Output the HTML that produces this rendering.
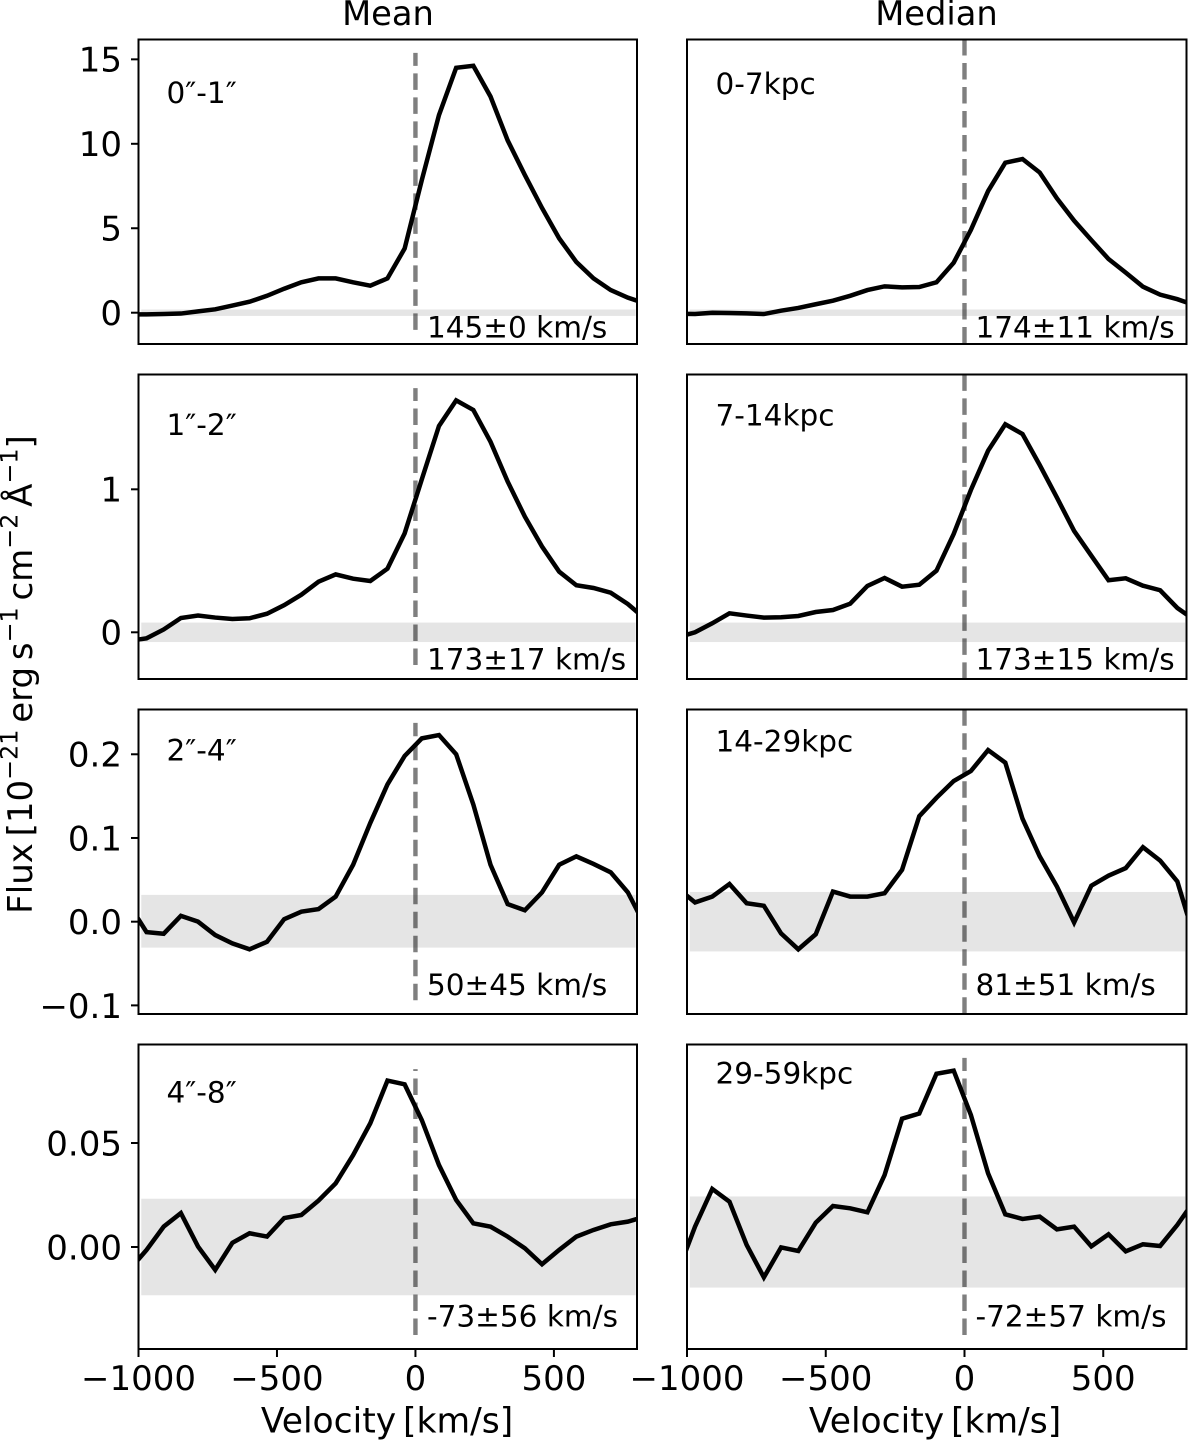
<!DOCTYPE html>
<html lang="en">
<head>
<meta charset="utf-8">
<title>Velocity profiles: mean and median flux</title>
<style>
  html, body { margin: 0; padding: 0; background: #fff; }
  svg { display: block; }
  text { font-family: "DejaVu Sans", "Liberation Sans", sans-serif; fill: #000; }
</style>
</head>
<body>
<svg id="chart" xmlns="http://www.w3.org/2000/svg" width="1200" height="1440" viewBox="0 0 1200 1440">
  <text x="388" y="25" font-size="33.7" text-anchor="middle">Mean</text>
  <text x="936.5" y="25" font-size="33.7" text-anchor="middle">Median</text>
  <text transform="translate(32 674.5) rotate(-90)" font-size="34" text-anchor="middle">Flux&#8201;[10<tspan dy="-14.5" font-size="23.8">&#8722;21</tspan><tspan dy="14.5">&#8201;erg&#8201;s</tspan><tspan dy="-14.5" font-size="23.8">&#8722;1</tspan><tspan dy="14.5">&#8201;cm</tspan><tspan dy="-14.5" font-size="23.8">&#8722;2</tspan><tspan dy="14.5">&#8201;&#197;</tspan><tspan dy="-14.5" font-size="23.8">&#8722;1</tspan><tspan dy="14.5">]</tspan></text>
  <text x="387" y="1432.5" font-size="34.5" text-anchor="middle">Velocity&#8201;[km/s]</text>
  <text x="935" y="1432.5" font-size="34.5" text-anchor="middle">Velocity&#8201;[km/s]</text>
</svg>
<script>
// ---- shared data ----
const velocities = [-1033,-971,-909,-847,-785,-723,-661,-599,-536,-474,-412,-350,-288,-225,-163,-101,-39,23,85,147,209,271,333,395,457,519,581,643,705,767,829];

const mean0to1 = [-0.1,-0.1,-0.08,-0.05,0.08,0.2,0.42,0.65,1.0,1.42,1.8,2.03,2.03,1.8,1.6,2.03,3.8,7.85,11.7,14.5,14.62,12.8,10.2,8.15,6.2,4.4,3.0,2.03,1.34,0.89,0.55];
const mean1to2 = [-0.06,-0.042,0.02,0.10,0.117,0.103,0.093,0.098,0.13,0.19,0.263,0.354,0.405,0.375,0.359,0.445,0.692,1.07,1.443,1.622,1.555,1.333,1.054,0.809,0.6,0.424,0.329,0.31,0.277,0.198,0.095];
const mean2to4 = [0.02,-0.0124,-0.0144,0.007,0,-0.016,-0.026,-0.033,-0.024,0.003,0.012,0.015,0.03,0.068,0.118,0.164,0.198,0.219,0.223,0.2,0.14,0.068,0.021,0.0136,0.035,0.068,0.078,0.069,0.059,0.035,-0.005];
const mean4to8 = [-0.011,-0.0014,0.0098,0.0163,0.0002,-0.011,0.002,0.0066,0.005,0.0139,0.0154,0.0223,0.0306,0.0442,0.0595,0.08,0.0782,0.061,0.0394,0.0226,0.0114,0.0098,0.005,-0.0006,-0.0083,-0.0014,0.005,0.0082,0.0109,0.0122,0.0146];

const median0to7 = [-0.05,-0.08,0,-0.02,-0.04,-0.08,0.12,0.28,0.5,0.71,1.0,1.34,1.56,1.5,1.52,1.8,2.96,4.9,7.2,8.88,9.1,8.3,6.77,5.45,4.3,3.18,2.37,1.54,1.07,0.8,0.45];
const median7to14 = [-0.035,0,0.063,0.133,0.117,0.103,0.105,0.114,0.142,0.156,0.2,0.324,0.38,0.319,0.333,0.431,0.688,0.995,1.27,1.455,1.387,1.17,0.942,0.709,0.536,0.364,0.378,0.326,0.294,0.17,0.086];
const median14to29 = [0.04,0.023,0.03,0.045,0.022,0.019,-0.014,-0.033,-0.015,0.036,0.03,0.03,0.034,0.062,0.126,0.148,0.168,0.18,0.205,0.19,0.123,0.078,0.042,-0.001,0.043,0.055,0.064,0.089,0.073,0.048,-0.02];
const median29to59 = [-0.012,0.0098,0.0279,0.0218,0.001,-0.0146,-0.0002,-0.0019,0.0117,0.0197,0.0186,0.0167,0.0346,0.0617,0.0642,0.0833,0.0848,0.0635,0.0354,0.0157,0.0135,0.0146,0.0085,0.0098,0.0003,0.0061,-0.0021,0.0013,0.0005,0.0106,0.0225];

// y-axis limits per row, tick values and printed labels
const rowLimits = [[-1.853,16.175],[-0.3266,1.803],[-0.1103,0.2535],[-0.04904,0.09736]];
const rowTicks = [[0,5,10,15],[0,1],[-0.1,0,0.1,0.2],[0,0.05]];
const rowTickLabels = [["0","5","10","15"],["0","1"],["\u22120.1","0.0","0.1","0.2"],["0.00","0.05"]];
const velocityLimits = [-1000,800];
const velocityTicks = [-1000,-500,0,500];
const velocityTickLabels = ["\u22121000","\u2212500","0","500"];

// flux noise bands [low, high]
const meanBands = [[-0.19,0.19],[-0.068,0.068],[-0.031,0.032],[-0.0232,0.0232]];
const medianBands = [[-0.19,0.19],[-0.068,0.068],[-0.0355,0.0355],[-0.0195,0.0243]];
const bandVelocity = [-990,795];

// zero-velocity marker extents in flux units [low, high]
const meanMarker = [[-1.02,15.38],[-0.229,1.708],[-0.0938,0.2375],[-0.0423,0.0855]];
const medianMarker = [[-1.82,17],[-0.326,2.2],[-0.11,0.3],[-0.0423,0.0909]];

const meanLabels = ["0\u2033-1\u2033","1\u2033-2\u2033","2\u2033-4\u2033","4\u2033-8\u2033"];
const medianLabels = ["0-7kpc","7-14kpc","14-29kpc","29-59kpc"];
const meanVelocityNotes = ["145\u00b10 km/s","173\u00b117 km/s","50\u00b145 km/s","-73\u00b156 km/s"];
const medianVelocityNotes = ["174\u00b111 km/s","173\u00b115 km/s","81\u00b151 km/s","-72\u00b157 km/s"];

const meanSeries = [mean0to1, mean1to2, mean2to4, mean4to8];
const medianSeries = [median0to7, median7to14, median14to29, median29to59];

// ---- layout ----
const NS = "http://www.w3.org/2000/svg";
const svg = document.getElementById("chart");
const rowBoxes = [[39.5,344],[374.5,679],[709.5,1014],[1044.5,1349]];
const colBoxes = [[138.5,637],[687,1186.5]];
const meanLabelY = [103,435,760.7,1102.3];
const medianLabelY = [94,425.7,751.7,1083.3];
const noteY = [337.3,669.3,995,1326.7];

function make(tag, attrs, parent) {
  const n = document.createElementNS(NS, tag);
  for (const k in attrs) n.setAttribute(k, attrs[k]);
  (parent || svg).appendChild(n);
  return n;
}
function xScale(col, v) {
  const b = colBoxes[col];
  return b[0] + (v - velocityLimits[0]) / (velocityLimits[1] - velocityLimits[0]) * (b[1] - b[0]);
}
function yScale(row, f) {
  const b = rowBoxes[row], l = rowLimits[row];
  return b[1] - (f - l[0]) / (l[1] - l[0]) * (b[1] - b[0]);
}

function drawPanel(col, row) {
  const kind = col === 0 ? "mean" : "median";
  const series = (col === 0 ? meanSeries : medianSeries)[row];
  const band = (col === 0 ? meanBands : medianBands)[row];
  const marker = (col === 0 ? meanMarker : medianMarker)[row];
  const [x0, x1] = colBoxes[col];
  const [y0, y1] = rowBoxes[row];
  const clipId = "clip-" + col + "-" + row;

  const clip = make("clipPath", { id: clipId });
  make("rect", { x: x0, y: y0, width: x1 - x0, height: y1 - y0 }, clip);

  const g = make("g", {});
  
  

  const bandRect = make("rect", {
    x: xScale(col, bandVelocity[0]),
    y: yScale(row, band[1]),
    width: xScale(col, bandVelocity[1]) - xScale(col, bandVelocity[0]),
    height: yScale(row, band[0]) - yScale(row, band[1]),
    fill: "#e5e5e5"
  }, g);
  
  

  const zeroLine = make("line", {
    x1: xScale(col, 0), x2: xScale(col, 0),
    y1: yScale(row, marker[0]), y2: yScale(row, marker[1]),
    stroke: "#000", "stroke-opacity": 0.5, "stroke-width": 4.4,
    "stroke-dasharray": "16.5 7.5", "clip-path": "url(#" + clipId + ")"
  }, g);
  
  

  const pts = velocities.map((v, i) => xScale(col, v).toFixed(2) + "," + yScale(row, series[i]).toFixed(2)).join(" ");
  const profile = make("polyline", {
    points: pts, fill: "none", stroke: "#000", "stroke-width": 4.5,
    "stroke-linejoin": "miter", "clip-path": "url(#" + clipId + ")"
  }, g);
  
  

  const frame = make("rect", {
    x: x0, y: y0, width: x1 - x0, height: y1 - y0,
    fill: "none", stroke: "#000", "stroke-width": 2
  }, g);
  
  

  const label = make("text", {
    x: col === 0 ? 166.5 : 715.5,
    y: (col === 0 ? meanLabelY : medianLabelY)[row],
    "font-size": 29.5
  }, g);
  label.textContent = (col === 0 ? meanLabels : medianLabels)[row];
  
  

  const note = make("text", {
    x: col === 0 ? 427 : 975.5,
    y: noteY[row],
    "font-size": 29.5
  }, g);
  note.textContent = (col === 0 ? meanVelocityNotes : medianVelocityNotes)[row];
  
  

  if (col === 0) {
    rowTicks[row].forEach((t, i) => {
      const y = yScale(row, t);
      const tick = make("line", { x1: x0 - 7.5, x2: x0, y1: y, y2: y, stroke: "#000", "stroke-width": 2 }, g);
      
      
      const tl = make("text", { x: 122, y: y + 12.4, "font-size": 34, "text-anchor": "end" }, g);
      tl.textContent = rowTickLabels[row][i];
      
      
    });
  }
  if (row === 3) {
    velocityTicks.forEach((t, i) => {
      const x = xScale(col, t);
      const tick = make("line", { x1: x, x2: x, y1: y1, y2: y1 + 8, stroke: "#000", "stroke-width": 2 }, g);
      
      
      const tl = make("text", { x: x, y: 1390, "font-size": 34, "text-anchor": "middle" }, g);
      tl.textContent = velocityTickLabels[i];
      
      
    });
  }
}

for (let col = 0; col < 2; col++) {
  for (let row = 0; row < 4; row++) drawPanel(col, row);
}
</script>
</body>
</html>
